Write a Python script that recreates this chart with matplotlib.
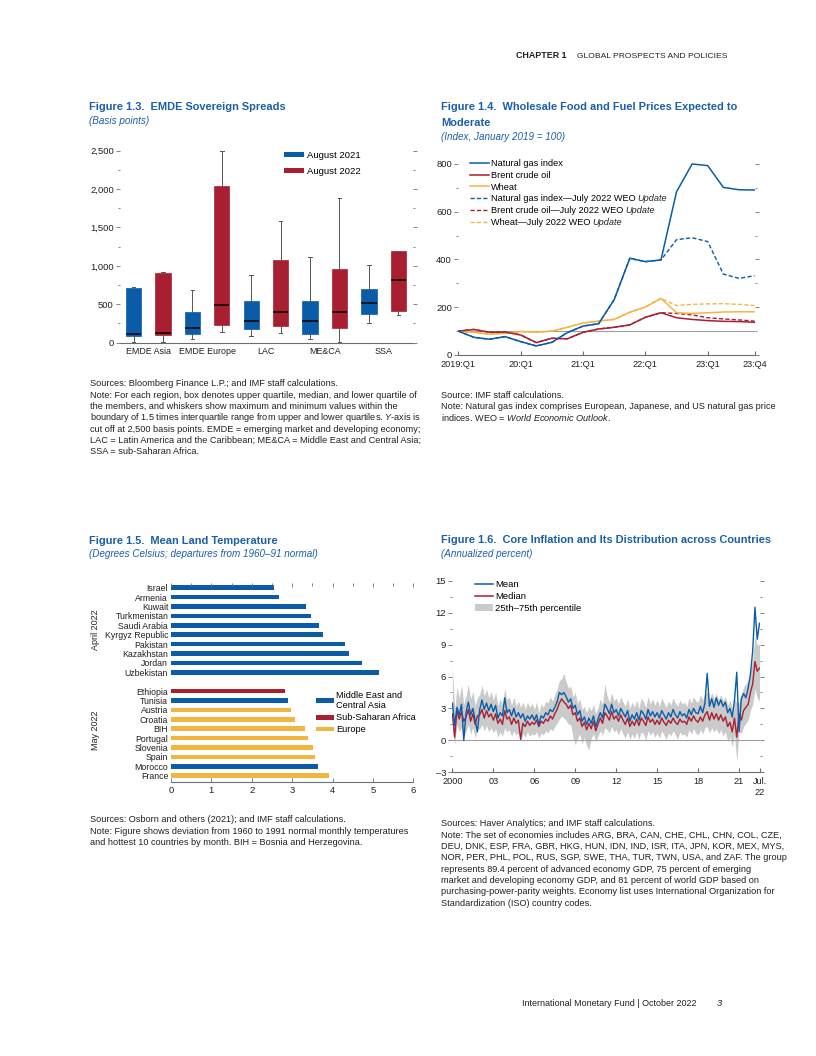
import numpy as np
import matplotlib
matplotlib.use('Agg')
import matplotlib.pyplot as plt
from matplotlib.patches import Patch
from matplotlib.lines import Line2D
from matplotlib.ticker import MultipleLocator, FuncFormatter

FONT = 'Liberation Sans'
plt.rcParams['font.family'] = [FONT, 'DejaVu Sans']
plt.rcParams['font.size'] = 7
plt.rcParams['mathtext.fontset'] = 'custom'
plt.rcParams['mathtext.rm'] = FONT
plt.rcParams['mathtext.it'] = FONT + ':italic'

BLUE = '#0B5CA8'
RED = '#A81F32'
YELLOW = '#F2B540'
TITLE_BLUE = '#1B5EA9'
GRAY = '#CACACA'
TEXT = '#231F20'
AXIS = '#6D6E71'

W, H = 816, 1056

# ---- Figure 1.3 data (basis points) ----
regions = ['EMDE Asia', 'EMDE Europe', 'LAC', 'ME&CA', 'SSA']
aug21_lo = [13, 43, 87, 43, 256]
aug21_q1 = [82, 108, 182, 113, 378]
aug21_med = [117, 187, 286, 278, 521]
aug21_q3 = [716, 404, 542, 542, 694]
aug21_hi = [720, 686, 885, 1115, 1007]
aug22_lo = [13, 135, 122, 13, 356]
aug22_q1 = [100, 230, 217, 187, 412]
aug22_med = [130, 486, 399, 404, 811]
aug22_q3 = [911, 2044, 1081, 963, 1189]
aug22_hi = [915, 2500, 1588, 1888, 1189]

# ---- Figure 1.4 data (index, 2019:Q1 = 100), 2019:Q1 .. 23:Q4 ----
quarter_labels = ['2019:Q1', '20:Q1', '21:Q1', '22:Q1', '23:Q1', '23:Q4']
quarter_label_pos = [0, 4, 8, 12, 16, 19]
gas = [100, 74, 66, 77, 56, 38, 53, 94, 121, 131, 232, 405, 391, 398, 684, 800, 793, 702, 692, 691]
brent = [100, 107, 95, 96, 84, 52, 70, 68, 95, 109, 116, 126, 158, 177, 156, 149, 144, 141, 140, 137]
wheat = [100, 95, 87, 91, 98, 96, 100, 116, 134, 142, 149, 179, 201, 237, 177, 174, 177, 180, 181, 181]
gas_weo = [100, 74, 66, 77, 56, 38, 53, 94, 121, 131, 232, 405, 391, 398, 483, 491, 475, 339, 321, 332]
brent_weo = [100, 107, 95, 96, 84, 52, 70, 68, 95, 109, 116, 126, 158, 177, 174, 168, 156, 151, 147, 142]
wheat_weo = [100, 95, 87, 91, 98, 96, 100, 116, 134, 142, 149, 179, 201, 237, 207, 212, 214, 215, 212, 207]

# ---- Figure 1.5 data (degrees C departure) ----
april_countries = ['Israel', 'Armenia', 'Kuwait', 'Turkmenistan', 'Saudi Arabia',
                   'Kyrgyz Republic', 'Pakistan', 'Kazakhstan', 'Jordan', 'Uzbekistan']
april_temps = [2.56, 2.68, 3.34, 3.46, 3.67, 3.76, 4.31, 4.41, 4.74, 5.14]
april_region = ['me'] * 10
may_countries = ['Ethiopia', 'Tunisia', 'Austria', 'Croatia', 'BIH', 'Portugal',
                 'Slovenia', 'Spain', 'Morocco', 'France']
may_temps = [2.83, 2.90, 2.96, 3.08, 3.33, 3.39, 3.52, 3.56, 3.65, 3.92]
may_region = ['ssa', 'me', 'eu', 'eu', 'eu', 'eu', 'eu', 'eu', 'me', 'eu']

# ---- Figure 1.6 data (annualized percent), every other month Jan 2000 .. Jul 2022 ----
core_mean = [
    3.5, 1.4, 3.1, 2.4, 3.4, 0.0,
    2.6, 3.6, 2.4, 3.0, 1.9, 0.8,
    2.9, 3.8, 2.9, 3.5, 2.8, 3.4,
    2.7, 3.3, 2.1, 2.6, 2.3, 4.0,
    2.6, 2.9, 2.3, 3.0, 2.2, 2.6,
    2.1, 2.5, 1.8, 2.3, 2.0, 2.4,
    1.9, 2.4, 1.5, 2.3, 2.1, 2.6,
    2.4, 2.9, 2.7, 3.1, 3.6, 4.5,
    4.3, 4.5, 4.1, 3.6, 3.9, 3.0,
    3.3, 2.4, 2.8, 1.8, 2.2, 1.5,
    2.1, 1.6, 2.3, 1.3, 2.0, 2.6,
    2.1, 3.4, 3.0, 2.5, 3.4, 2.6,
    2.9, 2.3, 3.0, 2.6, 2.2, 2.8,
    1.8, 2.4, 2.0, 2.6, 1.9, 2.8,
    2.5, 2.0, 2.9, 2.3, 2.7, 2.2,
    2.6, 2.1, 2.8, 2.4, 2.0, 2.6,
    2.2, 2.9, 2.4, 2.1, 2.7, 2.3,
    2.5, 2.1, 2.9, 2.4, 3.0, 2.6,
    2.5, 3.2, 2.6, 3.5, 6.3, 3.2,
    3.9, 3.1, 4.0, 3.3, 3.8, 3.2,
    3.6, 2.6, 3.0, 2.2, 3.8, 6.4,
    0.8, 3.9, 4.4, 4.0, 4.9, 6.2,
    8.4, 12.5, 9.5, 11.0,
]
core_median = [
    2.5, 0.3, 2.8, 2.0, 2.7, 1.8,
    2.2, 2.9, 1.8, 2.5, 1.5, 2.3,
    2.4, 2.9, 2.1, 2.8, 2.2, 2.5,
    1.9, 2.5, 1.6, 2.0, 1.5, 2.8,
    2.0, 2.2, 1.5, 2.1, 1.6, 1.9,
    0.1, 1.6, 1.3, 1.8, 1.4, 1.7,
    1.5, 1.9, 1.3, 1.8, 1.6, 2.0,
    1.8, 2.3, 2.0, 2.5, 2.9, 3.5,
    3.9, 3.6, 3.4, 3.0, 3.3, 2.4,
    2.6, 1.8, 2.1, 1.3, 1.7, 1.0,
    1.6, 1.1, 1.8, 0.9, 1.5, 2.1,
    1.6, 2.6, 2.3, 1.9, 2.7, 2.0,
    2.3, 1.8, 2.4, 1.9, 1.5, 2.1,
    1.3, 1.8, 1.4, 2.0, 1.4, 2.1,
    1.8, 1.4, 2.2, 1.7, 2.0, 1.5,
    1.9, 1.5, 2.1, 1.7, 1.4, 1.9,
    1.6, 2.1, 1.7, 1.5, 2.0, 1.7,
    1.8, 1.5, 2.2, 1.8, 2.3, 1.9,
    1.7, 2.2, 1.8, 2.4, 2.7, 1.9,
    2.6, 2.0, 2.5, 1.9, 2.4, 1.8,
    2.2, 1.3, 1.7, 0.8, 2.1, 0.3,
    2.5, 1.9, 2.8, 3.1, 3.4, 4.5,
    5.3, 7.4, 6.5, 6.8,
]
core_p25 = [
    1.0, -0.4, 1.5, 0.8, 1.2, 0.3,
    0.9, 1.5, 0.6, 1.2, 0.2, 1.0,
    1.1, 1.5, 0.9, 1.4, 0.8, 1.2,
    0.7, 1.1, 0.3, 0.8, 0.4, 1.2,
    0.8, 1.0, 0.4, 0.9, 0.5, 0.7,
    -0.1, 0.6, 0.3, 0.8, 0.4, 0.6,
    0.5, 0.8, 0.2, 0.7, 0.5, 0.9,
    0.7, 1.1, 0.9, 1.3, 1.6, 2.0,
    2.3, 2.1, 1.9, 1.5, 1.5, 0.3,
    -0.4, 0.2, 0.6, -0.3, 0.3, -0.5,
    -0.9, 0.2, 0.6, -0.1, 0.4, 0.9,
    0.5, 1.2, 1.0, 0.7, 1.3, 0.8,
    1.0, 0.5, 1.1, 0.6, 0.2, 0.8,
    0.1, 0.6, 0.2, 0.8, 0.1, 0.8,
    0.6, 0.0, 0.9, 0.5, 0.8, 0.3,
    0.7, 0.2, 0.9, 0.5, 0.1, 0.7,
    0.4, 0.9, 0.5, 0.1, 0.8, 0.5,
    0.6, 0.3, 1.0, 0.6, 1.1, 0.7,
    0.5, 1.0, 0.6, 1.2, 1.3, 0.7,
    1.2, 0.8, 1.1, 0.6, 1.0, 0.4,
    0.8, -0.1, 0.3, -0.6, 0.5, -2.0,
    0.9, 0.6, 1.3, 1.6, 1.9, 2.8,
    3.4, 4.8, 4.0, 3.7,
]
core_p75 = [
    6.8, 3.0, 5.0, 4.0, 5.2, 3.4,
    4.2, 5.3, 3.9, 4.6, 3.3, 4.0,
    4.3, 5.2, 4.2, 4.8, 4.0, 4.6,
    3.8, 4.5, 3.3, 3.9, 3.4, 4.9,
    3.8, 4.1, 3.3, 4.1, 3.2, 3.7,
    3.1, 3.6, 2.9, 3.6, 3.1, 3.5,
    2.9, 3.6, 2.6, 3.4, 3.1, 3.7,
    3.5, 4.1, 3.7, 4.3, 4.8, 5.6,
    5.8, 6.3, 5.5, 4.9, 5.1, 4.1,
    4.5, 3.5, 3.9, 2.9, 3.2, 2.6,
    3.2, 2.8, 3.4, 2.5, 3.1, 3.9,
    3.4, 5.3, 4.2, 3.6, 4.5, 3.7,
    4.0, 3.4, 4.1, 3.6, 3.2, 3.9,
    3.0, 3.6, 3.1, 3.8, 3.0, 4.0,
    3.6, 3.1, 4.1, 3.4, 3.9, 3.3,
    3.8, 3.2, 4.0, 3.5, 3.1, 3.7,
    3.3, 4.0, 3.5, 3.2, 3.8, 3.4,
    3.6, 3.2, 4.0, 3.5, 4.1, 3.7,
    3.6, 4.3, 3.8, 4.4, 4.5, 3.9,
    4.5, 3.9, 4.4, 3.8, 4.3, 3.7,
    4.1, 3.3, 3.8, 2.9, 3.9, 3.5,
    3.6, 4.3, 5.0, 5.3, 5.6, 6.6,
    7.6, 9.8, 9.0, 9.0,
]
year_ticks = [2000, 2003, 2006, 2009, 2012, 2015, 2018, 2021, 2022.5]
year_labels = ['2000', '03', '06', '09', '12', '15', '18', '21', 'Jul.\n22']


fig = plt.figure(figsize=(W / 100, H / 100), dpi=100)


def add_ax(l, t, r, b):
    return fig.add_axes([l / W, 1 - b / H, (r - l) / W, (b - t) / H])


def put(x, y, s, **kw):
    kw.setdefault('va', 'center')
    kw.setdefault('color', TEXT)
    fig.text(x / W, 1 - y / H, s, **kw)


def style(ax):
    ax.set_facecolor('none')
    for s in ['top', 'right', 'left']:
        ax.spines[s].set_visible(False)
    ax.spines['bottom'].set_color(AXIS)
    ax.spines['bottom'].set_linewidth(0.8)
    ax.tick_params(axis='y', which='both', left=True, right=True, direction='out',
                   color=AXIS, labelsize=6.8, labelcolor=TEXT, pad=1.5, width=0.6)
    ax.tick_params(axis='y', which='major', length=3)
    ax.tick_params(axis='y', which='minor', length=1.2)


def notes(x, y0, lines, dy=11.3):
    for i, s in enumerate(lines):
        put(x, y0 + i * dy, s, fontsize=6.55)


def title(x, y, s):
    put(x, y, s, fontsize=7.9, fontweight='bold', color=TITLE_BLUE)


def subtitle(x, y, s):
    put(x, y, s, fontsize=7.1, fontstyle='italic', color=TITLE_BLUE)


# header / footer
put(567, 58, 'CHAPTER 1', fontsize=6.4, fontweight='bold', ha='right', va='baseline')
put(577, 58, 'GLOBAL PROSPECTS AND POLICIES', fontsize=6.1, va='baseline')
put(522, 1004, 'International Monetary Fund | October 2022', fontsize=6.5)
put(717, 1004, '3', fontsize=6.8, fontstyle='italic')

# ================= Figure 1.3 =================
title(89, 107, 'Figure 1.3.  EMDE Sovereign Spreads')
subtitle(89, 121, '(Basis points)')
ax1 = add_ax(120, 150.7, 413, 342.7)
style(ax1)
xpos = np.arange(len(regions))
for off, color, lo, q1, med, q3, hi in [
        (-0.25, BLUE, aug21_lo, aug21_q1, aug21_med, aug21_q3, aug21_hi),
        (0.25, RED, aug22_lo, aug22_q1, aug22_med, aug22_q3, aug22_hi)]:
    stats = [dict(med=m, q1=a, q3=b, whislo=l, whishi=h, fliers=[])
             for l, a, m, b, h in zip(lo, q1, med, q3, hi)]
    ax1.bxp(stats, positions=xpos + off, widths=0.26, patch_artist=True,
            showfliers=False, capwidths=0.06,
            boxprops=dict(facecolor=color, edgecolor=color, linewidth=0.5),
            medianprops=dict(color='black', linewidth=1.1),
            whiskerprops=dict(color='#555555', linewidth=0.7),
            capprops=dict(color='#555555', linewidth=0.7))
ax1.set_xlim(-0.48, 4.5)
ax1.set_ylim(0, 2500)
ax1.yaxis.set_major_locator(MultipleLocator(500))
ax1.yaxis.set_minor_locator(MultipleLocator(250))
ax1.yaxis.set_major_formatter(FuncFormatter(lambda v, p: f'{v:,.0f}'))
ax1.set_xticks(xpos, regions)
ax1.tick_params(axis='x', length=0, pad=3, labelsize=6.4, labelcolor=TEXT)
ax1.legend(handles=[Patch(facecolor=BLUE, label='August 2021'),
                    Patch(facecolor=RED, label='August 2022')],
           loc='upper left', bbox_to_anchor=((284 - 120) / 293, 1.0),
           frameon=False, fontsize=6.8, handlelength=2.1, handleheight=0.5,
           handletextpad=0.3, labelspacing=0.75, borderaxespad=0, borderpad=0)
notes(90, 384, [
    'Sources: Bloomberg Finance L.P.; and IMF staff calculations.',
    'Note: For each region, box denotes upper quartile, median, and lower quartile of',
    'the members, and whiskers show maximum and minimum values within the',
    r'boundary of 1.5 times interquartile range from upper and lower quartiles. $\it{Y}$-axis is',
    'cut off at 2,500 basis points. EMDE = emerging market and developing economy;',
    'LAC = Latin America and the Caribbean; ME&CA = Middle East and Central Asia;',
    'SSA = sub-Saharan Africa.',
])

# ================= Figure 1.4 =================
title(441, 107, 'Figure 1.4.  Wholesale Food and Fuel Prices Expected to')
title(441, 123, 'Moderate')
subtitle(441, 137, '(Index, January 2019 = 100)')
ax2 = add_ax(458.3, 159.2, 754.5, 355)
style(ax2)
q = np.arange(len(gas))
ax2.axhline(100, color='#9D9D9D', lw=0.8)
dash = (0, (3, 1.6))
ax2.plot(q, gas_weo, color=BLUE, lw=1.0, ls=dash)
ax2.plot(q, brent_weo, color=RED, lw=1.0, ls=dash)
ax2.plot(q, wheat_weo, color=YELLOW, lw=1.0, ls=dash)
ax2.plot(q, wheat, color=YELLOW, lw=1.1)
ax2.plot(q, brent, color=RED, lw=1.1)
ax2.plot(q, gas, color=BLUE, lw=1.1)
ax2.set_xlim(0, 19)
ax2.set_ylim(0, 820)
ax2.yaxis.set_major_locator(MultipleLocator(200))
ax2.yaxis.set_minor_locator(MultipleLocator(100))
ax2.set_xticks(quarter_label_pos, quarter_labels)
ax2.tick_params(axis='x', direction='in', length=3, color=AXIS, pad=3.5,
                labelsize=6.6, labelcolor=TEXT)
leg2 = ax2.legend(handles=[
    Line2D([], [], color=BLUE, lw=1.1, label='Natural gas index'),
    Line2D([], [], color=RED, lw=1.1, label='Brent crude oil'),
    Line2D([], [], color=YELLOW, lw=1.1, label='Wheat'),
    Line2D([], [], color=BLUE, lw=1.0, ls=dash, label='Natural gas index—July 2022 WEO'),
    Line2D([], [], color=RED, lw=1.0, ls=dash, label='Brent crude oil—July 2022 WEO'),
    Line2D([], [], color=YELLOW, lw=1.0, ls=dash, label='Wheat—July 2022 WEO'),
], loc='upper left', bbox_to_anchor=((470 - 458.3) / 296.2, 1.0), frameon=False,
    fontsize=6.6, handlelength=2.1, handletextpad=0.2,
    labelspacing=0.3, borderaxespad=0, borderpad=0)
notes(441, 395, [
    'Source: IMF staff calculations.',
    'Note: Natural gas index comprises European, Japanese, and US natural gas price',
    r'indices. WEO = $\it{World\ Economic\ Outlook}$.',
])

# ================= Figure 1.5 =================
title(89, 541, 'Figure 1.5.  Mean Land Temperature')
subtitle(89, 554, '(Degrees Celsius; departures from 1960–91 normal)')
ax3 = add_ax(171, 583, 413.3, 782)
ax3.set_facecolor('none')
region_colors = {'me': BLUE, 'ssa': RED, 'eu': YELLOW}
countries = april_countries + may_countries
temps = april_temps + may_temps
regs = april_region + may_region
ypos = list(range(len(april_countries))) + [len(april_countries) + 1 + i for i in range(len(may_countries))]
ax3.barh(ypos, temps, height=0.5, color=[region_colors[r] for r in regs])
ax3.set_xlim(0, 6)
ax3.set_ylim(20.67, -0.5)
ax3.set_yticks(ypos, countries)
for s in ['top', 'right', 'left']:
    ax3.spines[s].set_visible(False)
ax3.spines['bottom'].set_color(AXIS)
ax3.spines['bottom'].set_linewidth(0.8)
ax3.tick_params(axis='y', length=0, pad=2, labelsize=6.3, labelcolor=TEXT)
ax3.xaxis.set_major_locator(MultipleLocator(1))
ax3.xaxis.set_minor_locator(MultipleLocator(0.5))
ax3.tick_params(axis='x', which='both', direction='in', top=True, color=AXIS,
                width=0.6, labelsize=6.8, labelcolor=TEXT, pad=3)
ax3.tick_params(axis='x', which='major', length=3)
ax3.tick_params(axis='x', which='minor', length=2.5, bottom=False)
put(95, 630, 'April 2022', fontsize=6.5, rotation=90, ha='center')
put(95, 730, 'May 2022', fontsize=6.5, rotation=90, ha='center')
ax3.legend(handles=[Patch(facecolor=BLUE, label='Middle East and\nCentral Asia'),
                    Patch(facecolor=RED, label='Sub-Saharan Africa'),
                    Patch(facecolor=YELLOW, label='Europe')],
           loc='upper left', bbox_to_anchor=((316 - 171) / 242.3, (782 - 691) / 199),
           frameon=False, fontsize=6.6, handlelength=2.0, handleheight=0.45,
           handletextpad=0.2, labelspacing=0.32, borderaxespad=0, borderpad=0)
notes(90, 820, [
    'Sources: Osborn and others (2021); and IMF staff calculations.',
    'Note: Figure shows deviation from 1960 to 1991 normal monthly temperatures',
    'and hottest 10 countries by month. BIH = Bosnia and Herzegovina.',
])

# ================= Figure 1.6 =================
title(441, 540, 'Figure 1.6.  Core Inflation and Its Distribution across Countries')
subtitle(441, 554, '(Annualized percent)')
ax4 = add_ax(452.4, 575.4, 760.2, 772.3)
style(ax4)
t = 2000 + np.arange(len(core_mean)) / 6
ax4.fill_between(t, core_p25, core_p75, color=GRAY, lw=0)
ax4.axhline(0, color='#A0A0A0', lw=0.8)
ax4.plot(t, core_median, color=RED, lw=1.0)
ax4.plot(t, core_mean, color=BLUE, lw=1.0)
ax4.set_xlim(2000, 2022.55)
ax4.set_ylim(-3, 15.5)
ax4.yaxis.set_major_locator(MultipleLocator(3))
ax4.yaxis.set_minor_locator(MultipleLocator(1.5))
ax4.yaxis.set_major_formatter(FuncFormatter(lambda v, p: f'{v:.0f}'.replace('-', '–')))
ax4.set_xticks(year_ticks, year_labels)
ax4.tick_params(axis='x', direction='in', length=3, color=AXIS, pad=3.5,
                labelsize=6.6, labelcolor=TEXT)
ax4.legend(handles=[Line2D([], [], color=BLUE, lw=1.1, label='Mean'),
                    Line2D([], [], color=RED, lw=1.1, label='Median'),
                    Patch(facecolor=GRAY, label='25th–75th percentile')],
           loc='upper left', bbox_to_anchor=((475 - 452.4) / 307.8, 0.975),
           frameon=False, fontsize=6.8, handlelength=1.9, handleheight=0.7,
           handletextpad=0.2, labelspacing=0.3, borderaxespad=0, borderpad=0)
notes(441, 824, [
    'Sources: Haver Analytics; and IMF staff calculations.',
    'Note: The set of economies includes ARG, BRA, CAN, CHE, CHL, CHN, COL, CZE,',
    'DEU, DNK, ESP, FRA, GBR, HKG, HUN, IDN, IND, ISR, ITA, JPN, KOR, MEX, MYS,',
    'NOR, PER, PHL, POL, RUS, SGP, SWE, THA, TUR, TWN, USA, and ZAF. The group',
    'represents 89.4 percent of advanced economy GDP, 75 percent of emerging',
    'market and developing economy GDP, and 81 percent of world GDP based on',
    'purchasing-power-parity weights. Economy list uses International Organization for',
    'Standardization (ISO) country codes.',
])

# italic "Update" after the WEO legend entries of Figure 1.4
fig.canvas.draw()
for lt in leg2.get_texts()[3:]:
    bb = lt.get_window_extent()
    fig.text((bb.x1 + 2) / W, bb.y0 / H, 'Update', fontsize=6.6,
             fontstyle='italic', color=TEXT, va='bottom')

fig.savefig('out.png', dpi=100)
